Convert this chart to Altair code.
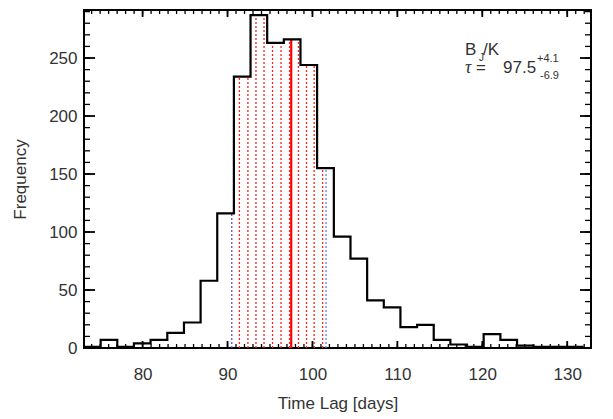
import altair as alt
import pandas as pd
import numpy as np

# ---- data ----
bin_edges = [73.10, 75.06, 77.02, 78.98, 80.94, 82.91, 84.87, 86.83, 88.79, 90.75,
             92.71, 94.67, 96.63, 98.59, 100.55, 102.52, 104.48, 106.44, 108.40, 110.36,
             112.32, 114.28, 116.24, 118.20, 120.16, 122.13, 124.09, 126.05, 128.01, 129.97,
             131.93]
counts = [1, 7, 1, 4, 7, 13, 22, 58, 116, 234,
          287, 263, 266, 244, 155, 96, 77, 41, 35, 18,
          20, 7, 3, 1, 12, 7, 2, 1, 1, 1]
red_dotted_x = [91.4, 92.4, 93.35, 94.3, 95.3, 96.3, 97.3, 98.35, 99.3, 100.2, 101.2]
blue_dotted_x = [90.5, 101.6]
blue_colors = ["#5b4fd0", "#4b8cf0"]
tau = 97.5
x_ticks = [80, 90, 100, 110, 120, 130]
y_ticks = [0, 50, 100, 150, 200, 250]
x_minor = list(range(74, 133))
y_minor = list(range(0, 291, 10))

X_DOMAIN = [73.1, 132.8]
Y_DOMAIN = [0, 291.4]
W, H = 507, 338
FONT = "Liberation Sans"
TXT = "#333333"


def height_at(xs):
    idx = np.searchsorted(bin_edges, xs, side="right") - 1
    return [counts[i] for i in idx]


step_df = pd.DataFrame({"x": bin_edges, "y": counts + [counts[-1]]})
red_df = pd.DataFrame({"x": red_dotted_x, "y0": 0, "top": height_at(red_dotted_x)})
blue_df = pd.DataFrame({"x": blue_dotted_x, "y0": 0, "top": height_at(blue_dotted_x),
                        "c": blue_colors})
solid_df = pd.DataFrame({"x": [tau], "y0": [0], "top": height_at([tau])})

xs = alt.Scale(domain=X_DOMAIN, nice=False, zero=False)
ys = alt.Scale(domain=Y_DOMAIN, nice=False, zero=False)

x_lab = alt.Axis(values=x_ticks, ticks=False, tickSize=0, domain=False, grid=False,
                 orient="bottom",
                 labelFontSize=17, labelFont=FONT, labelColor=TXT, labelPadding=18,
                 labelFlush=False, title="Time Lag [days]", titleFont=FONT,
                 titleFontSize=17, titleFontWeight="normal", titleColor=TXT,
                 titleX=W / 2, titleY=60, titleBaseline="alphabetic")
y_lab = alt.Axis(values=y_ticks, ticks=False, tickSize=0, domain=False, grid=False,
                 orient="left",
                 labelFontSize=17, labelFont=FONT, labelColor=TXT, labelPadding=7,
                 title="Frequency", titleFont=FONT, titleFontSize=17,
                 titleFontWeight="normal", titleColor=TXT, titleX=-64, titleY=H / 2,
                 titleBaseline="middle", titleAngle=270)

hist = alt.Chart(step_df).mark_line(interpolate="step-after", color="black",
                                    strokeWidth=2.2).encode(
    x=alt.X("x:Q", scale=xs, axis=x_lab),
    y=alt.Y("y:Q", scale=ys, axis=y_lab),
)

red_rules = alt.Chart(red_df).mark_rule(color="#ff2020", strokeWidth=1.3,
                                        strokeDash=[2, 2]).encode(
    x=alt.X("x:Q", scale=xs, axis=None),
    y=alt.Y("y0:Q", scale=ys, axis=None),
    y2="top:Q",
)

blue_rules = alt.Chart(blue_df).mark_rule(strokeWidth=1.3, strokeDash=[2, 2]).encode(
    x=alt.X("x:Q", scale=xs, axis=None),
    y=alt.Y("y0:Q", scale=ys, axis=None),
    y2="top:Q",
    color=alt.Color("c:N", scale=None),
)

solid = alt.Chart(solid_df).mark_rule(color="#ff0000", strokeWidth=2.2).encode(
    x=alt.X("x:Q", scale=xs, axis=None),
    y=alt.Y("y0:Q", scale=ys, axis=None),
    y2="top:Q",
)


# inward tick marks on all four edges of the frame, positioned by the scales
def x_tick_marks(values, length, width, at_top):
    a, b = (0, length) if at_top else (H, H - length)
    return alt.Chart(pd.DataFrame({"v": values})).mark_rule(
        color="black", strokeWidth=width).encode(
        x=alt.X("v:Q", scale=xs, axis=None), y=alt.value(a), y2=alt.value(b))


def y_tick_marks(values, length, width, at_right):
    a, b = (W, W - length) if at_right else (0, length)
    return alt.Chart(pd.DataFrame({"v": values})).mark_rule(
        color="black", strokeWidth=width).encode(
        y=alt.Y("v:Q", scale=ys, axis=None), x=alt.value(a), x2=alt.value(b))


ticks = [
    x_tick_marks(x_ticks, 7, 1.8, False), x_tick_marks(x_ticks, 7, 1.8, True),
    x_tick_marks(x_minor, 4, 1.3, False), x_tick_marks(x_minor, 4, 1.3, True),
    y_tick_marks(y_ticks, 11, 1.8, False), y_tick_marks(y_ticks, 11, 1.8, True),
    y_tick_marks(y_minor, 6, 1.3, False), y_tick_marks(y_minor, 6, 1.3, True),
]


def label(text, x, y, size, font=FONT, style="normal"):
    return alt.Chart(pd.DataFrame({"t": [text]})).mark_text(
        align="left", baseline="alphabetic", fontSize=size, font=font,
        fontStyle=style, color=TXT).encode(
        text="t:N", x=alt.value(x), y=alt.value(y))


texts = [
    label("B", 381, 45, 17),
    label("J", 395, 51, 10),
    label("/K", 399, 45, 17),
    label("τ", 381, 63, 18, font="Liberation Serif", style="italic"),
    label("=", 392, 63, 17),
    label("97.5", 419, 63, 17),
    label("+4.1", 453, 52, 11),
    label("-6.9", 456, 69, 11),
]

chart = alt.layer(blue_rules, red_rules, solid, *ticks, hist, *texts).resolve_axis(
    x="independent", y="independent"
).properties(
    width=W, height=H,
    autosize=alt.AutoSizeParams(type="none"),
    padding={"left": 76, "top": 2, "right": 14, "bottom": 70},
).configure_view(stroke="black", strokeWidth=2)

chart.save("out.html", embed_options={"renderer": "svg", "actions": False})
